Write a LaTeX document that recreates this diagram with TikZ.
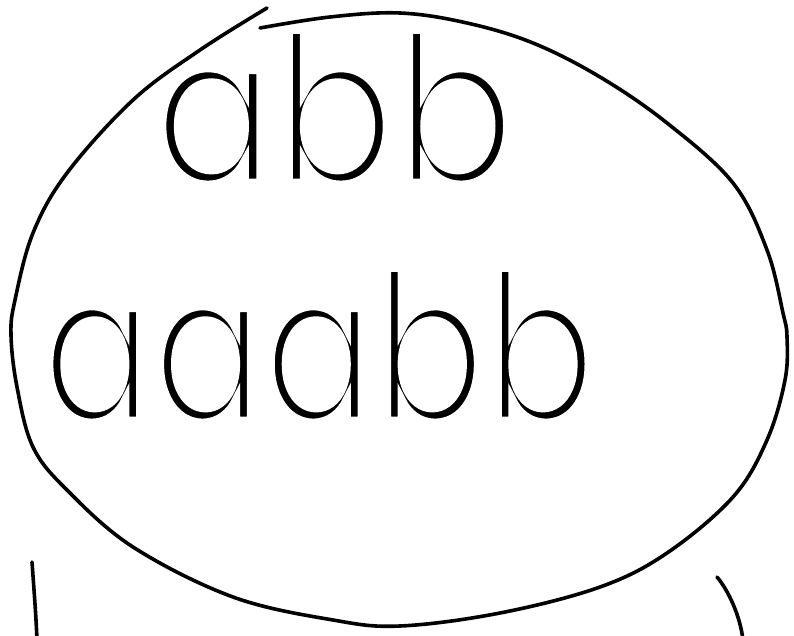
\documentclass[tikz,border=0pt]{standalone}
\usepackage{fontspec}
\newfontfamily\hand{Poppins}
\newcommand{\thinink}[1]{\special{pdf:literal direct 2 Tr 1 1 1 RG 9 w}#1\special{pdf:literal direct 0 Tr 0 0 0 RG}}
\begin{document}
\begin{tikzpicture}[x=1pt,y=-1pt,
  pen/.style={line width=3.6pt, line cap=round, line join=round},
  word/.style={anchor=base west, inner sep=0pt, font=\hand\fontsize{178}{178}\selectfont}]
\useasboundingbox (0,0) rectangle (794,636);
\node[word] (w1) at (154,184) {\scalebox{1.0}[1.18]{\thinink{abb}}};
\node[word] (w2) at (42,422) {\scalebox{0.92}[1.18]{\thinink{aaabb}}};
% big closed curve
\draw[pen] plot[smooth, tension=0.6] coordinates {(267,8) (200,50) (133,100) (67,173) (33,233) (15,300) (11,335) (17,387) (33,447) (67,490) (133,547) (233,597) (333,620) (400,626) (500,613) (600,587) (667,553) (733,497) (767,440) (785,380) (787,337) (783,313) (767,250) (733,183) (667,123) (600,77) (533,43) (467,23) (400,13) (330,17) (260,28)};
\coordinate (l1) at (32,562);
\coordinate (l2) at (37,640);
\coordinate (r1) at (717,577);
\coordinate (r2) at (743,640);
\draw[pen] (l1) .. controls (34,590) and (36,615) .. (l2);
\draw[pen] (r1) .. controls (728,590) and (740,615) .. (r2);
\end{tikzpicture}
\end{document}
